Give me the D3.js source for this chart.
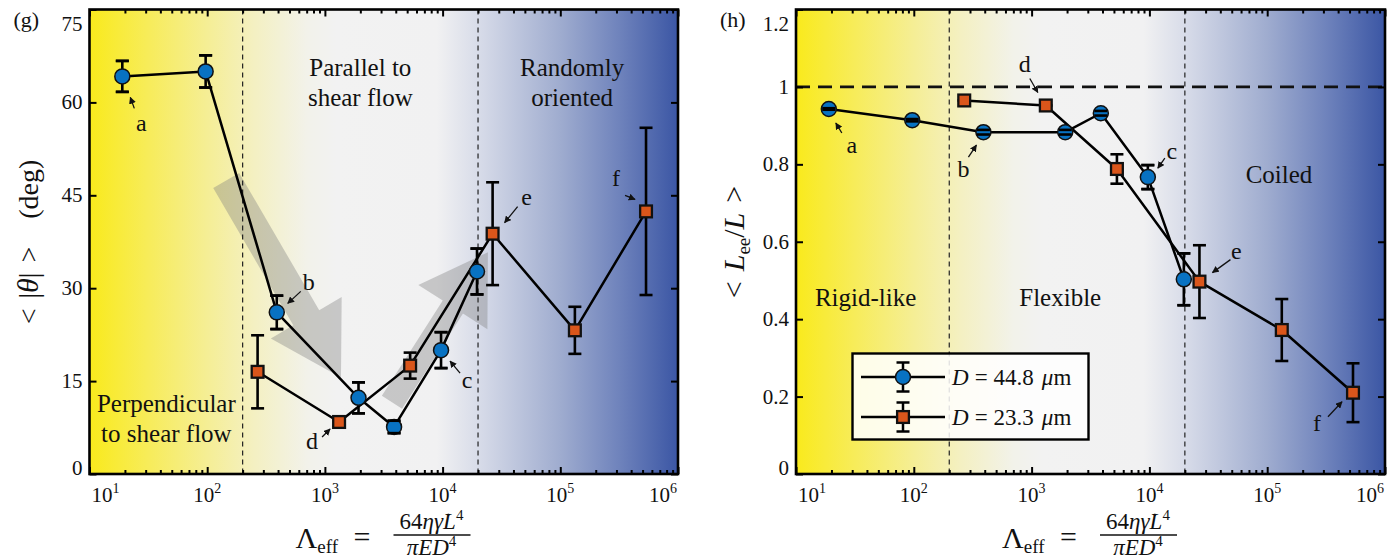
<!DOCTYPE html>
<html><head><meta charset="utf-8">
<script src="https://cdn.jsdelivr.net/npm/d3@7"></script>
<style>
body{margin:0;background:#fff}
svg{display:block}
</style>
</head><body>
<svg id="c" width="1390" height="559"></svg>
<script>
// ---------------- data ----------------
const xTickValues = [1e1, 1e2, 1e3, 1e4, 1e5, 1e6];
const xTickExp = ["1", "2", "3", "4", "5", "6"];
const thetaTicks = [0, 15, 30, 45, 60, 75];
const thetaTickLabels = ["0", "15", "30", "45", "60", "75"];
const ratioTicks = [0, 0.2, 0.4, 0.6, 0.8, 1, 1.2];
const ratioTickLabels = ["0", "0.2", "0.4", "0.6", "0.8", "1", "1.2"];
const regimeBounds = [200, 20000];

const lambdaD448 = [19, 97, 390, 1930, 3870, 9700, 19600];
const thetaD448 = [64.2, 65.0, 26.1, 12.3, 7.6, 20.0, 32.7];
const thetaErrD448 = [2.5, 2.6, 2.7, 2.5, 1.0, 2.9, 3.7];
const ratioD448 = [0.943, 0.914, 0.883, 0.883, 0.932, 0.767, 0.503];
const ratioErrD448 = [0.002, 0.003, 0.006, 0.006, 0.006, 0.031, 0.067];

const lambdaD233 = [268, 1320, 5300, 26600, 133000, 535000];
const thetaD233 = [16.5, 8.4, 17.5, 38.8, 23.2, 42.4];
const thetaErrD233 = [5.9, 0.6, 2.1, 8.3, 3.8, 13.5];
const ratioD233 = [0.965, 0.952, 0.788, 0.497, 0.372, 0.210];
const ratioErrD233 = [0, 0, 0.038, 0.094, 0.080, 0.076];

const legendLabels = ["44.8", "23.3"];

// annotation letters: series, point index, letter
const annotG = [["b", 0, "a"], ["b", 2, "b"], ["b", 5, "c"], ["o", 1, "d"], ["o", 3, "e"], ["o", 5, "f"]];
const annotH = [["b", 0, "a"], ["b", 2, "b"], ["b", 5, "c"], ["o", 1, "d"], ["o", 3, "e"], ["o", 5, "f"]];

// ---------------- styles / layout ----------------
const FONT = "'Liberation Serif', 'Times New Roman', Tinos, serif";
const BLUE = "#0872c2", ORANGE = "#da561b";
const bgStops = [[1.0,"#f9ea1c"],[1.5,"#f7ec5a"],[2.0,"#f5ee95"],[2.4,"#f4f0c2"],[2.85,"#f2f2ea"],[3.1,"#f2f2f2"],[3.95,"#f1f1f2"],[4.3,"#d8dce9"],[5.0,"#9faccf"],[5.5,"#6f83bc"],[6.0,"#3b56a4"]];
// offsets for annotation text / arrow tail / arrow head relative to the marker (px)
const offG = {a:[19,49,12,32,8,21], b:[32,-28,24,-21,11,-9], c:[26,32,19,23,9,11], d:[-27,21,-17,15,-9,7], e:[34,-35,25,-27,12,-11], f:[-30,-31,-21,-16,-11,-12]};
const offH = {a:[23,38,13,24,7,14], b:[-20,39,-15,25,-7,13], c:[24,-24,17,-19,10,-9], d:[-21,-39,-16,-27,-8,-13], e:[37,-29,31,-22,13,-9], f:[-36,32,-25,24,-11,9]};

const svg = d3.select("#c").style("font-family", FONT);
const txt = (sel) => sel.append("text").style("font-family", FONT).attr("fill", "#111");
const defs = svg.append("defs");
defs.append("marker").attr("id","ah").attr("viewBox","0 0 10 10").attr("refX",9).attr("refY",5)
  .attr("markerWidth",7).attr("markerHeight",7).attr("markerUnits","userSpaceOnUse").attr("orient","auto")
  .append("path").attr("d","M0,0L10,5L0,10Z").attr("fill","#111");

function drawMarker(g, type, cx, cy) {
  if (type === "circle") g.append("circle").attr("cx", cx).attr("cy", cy).attr("r", 7.5).attr("fill", BLUE).attr("stroke", "#111").attr("stroke-width", 1.5);
  else g.append("rect").attr("x", cx - 5.9).attr("y", cy - 5.9).attr("width", 11.8).attr("height", 11.8).attr("fill", ORANGE).attr("stroke", "#111").attr("stroke-width", 2.3);
}

function drawPanel(p) {
  const x = d3.scaleLog().domain([10, 1e6]).range([p.x0, p.x1]);
  const y = d3.scaleLinear().domain(p.yDomain).range([p.y1, p.y0]);
  const g = svg.append("g");
  const gid = "bg" + p.id;
  const grad = defs.append("linearGradient").attr("id", gid).attr("gradientUnits","userSpaceOnUse")
    .attr("x1", p.x0).attr("x2", p.x1).attr("y1", 0).attr("y2", 0);
  bgStops.forEach(([lv, c]) => grad.append("stop").attr("offset", (x(Math.pow(10, lv)) - p.x0) / (p.x1 - p.x0)).attr("stop-color", c));
  g.append("rect").attr("x", p.x0).attr("y", p.y0).attr("width", p.x1 - p.x0).attr("height", p.y1 - p.y0).attr("fill", `url(#${gid})`);

  // big translucent arrows
  (p.bigArrows || []).forEach(a => {
    const tx = x(a.tail[0]), ty = y(a.tail[1]), hx = x(a.tip[0]), hy = y(a.tip[1]);
    const L = Math.hypot(hx - tx, hy - ty), ux = (hx - tx) / L, uy = (hy - ty) / L, nx = -uy, ny = ux;
    const bx = hx - ux * a.hl, by = hy - uy * a.hl;
    const pts = [[tx + nx*a.sw/2, ty + ny*a.sw/2],[bx + nx*a.sw/2, by + ny*a.sw/2],[bx + nx*a.hw/2, by + ny*a.hw/2],[hx, hy],
      [bx - nx*a.hw/2, by - ny*a.hw/2],[bx - nx*a.sw/2, by - ny*a.sw/2],[tx - nx*a.sw/2, ty - ny*a.sw/2]];
    g.append("polygon").attr("points", pts.map(q => q.join(",")).join(" ")).attr("fill", "#7c7c7c").attr("fill-opacity", 0.37);
  });

  // regime boundaries
  regimeBounds.forEach(b => g.append("line").attr("x1", x(b)).attr("x2", x(b)).attr("y1", p.y0).attr("y2", p.y1)
    .attr("stroke", "#222").attr("stroke-width", 1.2).attr("stroke-dasharray", "5,4"));
  if (p.hline !== undefined) g.append("line").attr("x1", p.x0).attr("x2", p.x1).attr("y1", y(p.hline)).attr("y2", y(p.hline))
    .attr("stroke", "#111").attr("stroke-width", 2.6).attr("stroke-dasharray", "14,8");

  // region labels
  p.regions.forEach(r => {
    const t = txt(g).attr("x", x(r.x)).attr("y", y(r.y)).attr("text-anchor", "middle").attr("font-size", 25);
    r.lines.forEach((ln, i) => t.append("tspan").attr("x", x(r.x)).attr("dy", i ? 30 : 0).text(ln));
  });

  const series = [
    {key: "b", xs: lambdaD448, ys: p.yb, es: p.eb, type: "circle"},
    {key: "o", xs: lambdaD233, ys: p.yo, es: p.eo, type: "square"}
  ];
  series.forEach(s => s.pts = s.xs.map((v, i) => ({x: x(v), y: y(s.ys[i]), yt: y(s.ys[i] + s.es[i]), yb: y(s.ys[i] - s.es[i])})));
  series.forEach(s => g.append("path").attr("d", d3.line().x(d => d.x).y(d => d.y)(s.pts))
    .attr("fill", "none").attr("stroke", "#000").attr("stroke-width", 2.5).attr("stroke-linejoin", "round"));
  const drawCaps = (gg, pts) => pts.forEach(d => [d.yt, d.yb].forEach(yy => gg.append("line")
    .attr("x1", d.x - 6.5).attr("x2", d.x + 6.5).attr("y1", yy).attr("y2", yy).attr("stroke", "#000").attr("stroke-width", 2.6)));
  series.forEach(s => {
    s.pts.forEach(d => g.append("line").attr("x1", d.x).attr("x2", d.x).attr("y1", d.yt).attr("y2", d.yb).attr("stroke", "#000").attr("stroke-width", 2.6));
    drawCaps(g, s.pts);
  });
  series.forEach(s => s.pts.forEach(d => drawMarker(g, s.type, d.x, d.y)));
  drawCaps(g, series[0].pts);

  // annotations
  p.annot.forEach(([sk, i, t]) => {
    const d = series.find(s => s.key === sk).pts[i], o = p.off[t];
    txt(g).attr("x", d.x + o[0]).attr("y", d.y + o[1] + 6).attr("text-anchor", "middle").attr("font-size", 24).text(t);
    g.append("line").attr("x1", d.x + o[2]).attr("y1", d.y + o[3]).attr("x2", d.x + o[4]).attr("y2", d.y + o[5])
      .attr("stroke", "#111").attr("stroke-width", 1.3).attr("marker-end", "url(#ah)");
  });

  // axes ticks (inward)
  const minor = [];
  for (let e = 1; e < 6; e++) for (let k = 2; k < 10; k++) minor.push(k * Math.pow(10, e));
  const ax = (gen, tr, vals, size) => g.append("g").attr("transform", tr)
    .call(gen.tickValues(vals).tickSize(size).tickFormat("")).call(s => s.select(".domain").remove())
    .call(s => s.selectAll("line").attr("stroke", "#000").attr("stroke-width", 2));
  ax(d3.axisBottom(x), `translate(0,${p.y1})`, xTickValues, -7);
  ax(d3.axisBottom(x), `translate(0,${p.y1})`, minor, -4);
  ax(d3.axisTop(x), `translate(0,${p.y0})`, xTickValues, -7);
  ax(d3.axisTop(x), `translate(0,${p.y0})`, minor, -4);
  ax(d3.axisLeft(y), `translate(${p.x0},0)`, p.ticks, -7);
  ax(d3.axisRight(y), `translate(${p.x1},0)`, p.ticks, -7);

  g.append("rect").attr("x", p.x0).attr("y", p.y0).attr("width", p.x1 - p.x0).attr("height", p.y1 - p.y0)
    .attr("fill", "none").attr("stroke", "#000").attr("stroke-width", 2.6);

  // tick labels
  xTickValues.forEach((v, i) => {
    const last = i === xTickValues.length - 1;
    const t = txt(g).attr("y", p.y1 + 28).attr("font-size", 21)
      .attr("x", i === 0 ? x(v) + 2 : last ? x(v) - 1 : x(v))
      .attr("text-anchor", i === 0 ? "start" : last ? "end" : "middle");
    t.append("tspan").text("10");
    t.append("tspan").attr("font-size", 14).attr("dy", -9).text(xTickExp[i]);
  });
  p.ticks.forEach((v, i) => {
    const shift = i === 0 ? -6 : i === p.ticks.length - 1 ? 14 : 0;
    txt(g).attr("x", p.x0 - 7).attr("y", y(v) + shift + 7).attr("text-anchor", "end").attr("font-size", 21).text(p.tickLabels[i]);
  });

  // x label
  const xl = g.append("g").attr("transform", `translate(${p.x0 + 206},548)`);
  const lt = txt(xl).attr("x", 0).attr("y", 0).attr("font-size", 30);
  lt.append("tspan").text("Λ");
  lt.append("tspan").attr("font-size", 19).attr("dy", 5).text("eff");
  txt(xl).attr("x", 58).attr("y", -1).attr("font-size", 30).text("=");
  const num = txt(xl).attr("x", 136).attr("y", -19).attr("text-anchor", "middle").attr("font-size", 23);
  num.append("tspan").text("64");
  num.append("tspan").attr("font-style", "italic").text("ηγ\u0307L");
  num.append("tspan").attr("font-size", 15).attr("dy", -9).text("4");
  xl.append("line").attr("x1", 98).attr("x2", 175).attr("y1", -13).attr("y2", -13).attr("stroke", "#111").attr("stroke-width", 1.5);
  const den = txt(xl).attr("x", 136).attr("y", 7).attr("text-anchor", "middle").attr("font-size", 23);
  den.append("tspan").attr("font-style", "italic").text("πED");
  den.append("tspan").attr("font-size", 15).attr("dy", -9).text("4");

  // panel letter
  txt(g).attr("x", p.x0 - 76).attr("y", 27).attr("font-size", 22).text(`(${p.id})`);
  return {x, y, g};
}

// ---------- panel (g) ----------
drawPanel({
  id: "g", x0: 89.5, x1: 678, y0: 9.5, y1: 474, yDomain: [0, 75], ticks: thetaTicks, tickLabels: thetaTickLabels,
  yb: thetaD448, eb: thetaErrD448, yo: thetaD233, eo: thetaErrD233, annot: annotG, off: offG,
  bigArrows: [{tail: [145, 47.4], tip: [1370, 15.6], sw: 30, hw: 82, hl: 69}, {tail: [3715, 11.6], tip: [24260, 35.8], sw: 24, hw: 82, hl: 65}],
  regions: [{x: 45, y: 10.0, lines: ["Perpendicular", "to shear flow"]}, {x: 2000, y: 64.2, lines: ["Parallel to", "shear flow"]}, {x: 126000, y: 64.2, lines: ["Randomly", "oriented"]}]
});
{
  const t = txt(svg).attr("transform", "translate(38,242) rotate(-90)").attr("text-anchor", "middle").attr("font-size", 28);
  t.append("tspan").text("<");
  t.append("tspan").attr("dx", 10).text("|");
  t.append("tspan").attr("font-style", "italic").attr("font-size", 30).text("θ");
  t.append("tspan").text("|");
  t.append("tspan").attr("dx", 10).text(">");
  t.append("tspan").attr("dx", 28).text("(deg)");
}

// ---------- panel (h) ----------
drawPanel({
  id: "h", x0: 796, x1: 1385, y0: 9.5, y1: 474, yDomain: [0, 1.2], ticks: ratioTicks, tickLabels: ratioTickLabels,
  yb: ratioD448, eb: ratioErrD448, yo: ratioD233, eo: ratioErrD233, annot: annotH, off: offH, hline: 1,
  regions: [{x: 39, y: 0.434, lines: ["Rigid-like"]}, {x: 1750, y: 0.434, lines: ["Flexible"]}, {x: 126000, y: 0.7525, lines: ["Coiled"]}]
});
{
  const t = txt(svg).attr("transform", "translate(744,242) rotate(-90)").attr("text-anchor", "middle").attr("font-size", 30);
  t.append("tspan").text("<");
  t.append("tspan").attr("dx", 10).attr("font-style", "italic").text("L");
  t.append("tspan").attr("font-size", 19).attr("dy", 6).text("ee");
  t.append("tspan").attr("dy", -6).text("/");
  t.append("tspan").attr("font-style", "italic").text("L");
  t.append("tspan").attr("dx", 10).text(">");
}

// legend
{
  const lg = svg.append("g");
  lg.append("rect").attr("x", 852.5).attr("y", 353.5).attr("width", 236).attr("height", 86)
    .attr("fill", "#fff").attr("fill-opacity", 0.86).attr("stroke", "#000").attr("stroke-width", 2.4);
  [["circle", 377], ["square", 417]].forEach(([type, yy], i) => {
    lg.append("line").attr("x1", 861).attr("x2", 945).attr("y1", yy).attr("y2", yy).attr("stroke", "#000").attr("stroke-width", 2.4);
    lg.append("line").attr("x1", 903).attr("x2", 903).attr("y1", yy - 14.5).attr("y2", yy + 14.5).attr("stroke", "#000").attr("stroke-width", 2.5);
    [yy - 14.5, yy + 14.5].forEach(c => lg.append("line").attr("x1", 896.5).attr("x2", 909.5).attr("y1", c).attr("y2", c).attr("stroke", "#000").attr("stroke-width", 2.5));
    drawMarker(lg, type, 903, yy);
    const t = txt(lg).attr("x", 952).attr("y", yy + 8).attr("font-size", 23);
    t.append("tspan").attr("font-style", "italic").text("D");
    t.append("tspan").attr("dx", 6).text("=");
    t.append("tspan").attr("dx", 6).text(legendLabels[i]);
    t.append("tspan").attr("dx", 8).attr("font-style", "italic").text("μ");
    t.append("tspan").text("m");
  });
}
</script>
</body></html>
